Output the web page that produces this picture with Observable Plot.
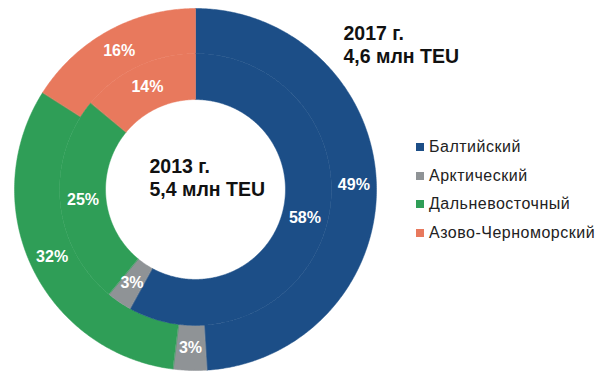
<!DOCTYPE html>
<html>
<head>
<meta charset="utf-8">
<script src="https://cdn.jsdelivr.net/npm/d3@7"></script>
<script src="https://cdn.jsdelivr.net/npm/@observablehq/plot@0.6"></script>
<style>
  html, body { margin: 0; padding: 0; background: #fff; }
  #wrap { position: relative; width: 603px; height: 380px; font-family: "Liberation Sans", Arial, sans-serif; }
  #legend { position: absolute; left: 416px; top: 137px; font-size: 16px; letter-spacing: 0.5px; color: #222; }
  #legend div { height: 28.5px; line-height: 20px; white-space: nowrap; }
  #legend span.sw { display: inline-block; width: 8px; height: 8px; margin-right: 5px; vertical-align: 1px; }
</style>
</head>
<body>
<div id="wrap"></div>
<script>
const categories = ["Балтийский", "Арктический", "Дальневосточный", "Азово-Черноморский"];
const colors = ["#1c4e87", "#8f9396", "#2f9e57", "#e8795d"];
const share2017 = [49, 3, 32, 16];   // outer ring
const share2013 = [58, 3, 25, 14];   // inner ring
const years = ["2017 г.", "2013 г."];
const totals = ["4,6 млн TEU", "5,4 млн TEU"];

// ring radii (relative to outer radius)
const rings = [
  {values: share2017, r0: 0.751, r1: 1},
  {values: share2013, r0: 0.497, r1: 0.751}
];

const pie = d3.pie().sort(null).startAngle(0).endAngle(2 * Math.PI);
const slices = [];
rings.forEach((ring) => {
  pie(ring.values).forEach((a, i) => {
    const n = Math.max(4, Math.ceil((a.endAngle - a.startAngle) / 0.01));
    const pts = [];
    for (let k = 0; k <= n; k++) {
      const t = a.startAngle + (a.endAngle - a.startAngle) * k / n;
      pts.push([ring.r1 * Math.sin(t), ring.r1 * Math.cos(t)]);
    }
    for (let k = n; k >= 0; k--) {
      const t = a.startAngle + (a.endAngle - a.startAngle) * k / n;
      pts.push([ring.r0 * Math.sin(t), ring.r0 * Math.cos(t)]);
    }
    pts.push(pts[0]);
    const mid = (a.startAngle + a.endAngle) / 2;
    const rm = (ring.r0 + ring.r1) / 2;
    slices.push({
      type: "Feature",
      properties: {
        category: categories[i],
        value: a.data,
        lx: rm * Math.sin(mid),
        ly: rm * Math.cos(mid)
      },
      geometry: {type: "Polygon", coordinates: [pts]}
    });
  });
});

const R = 181;
const plot = Plot.plot({
  width: 603,
  height: 380,
  marginLeft: 14,
  marginTop: 8,
  marginRight: 603 - 14 - 2 * R,
  marginBottom: 380 - 8 - 2 * R,
  projection: {type: "reflect-y", domain: {type: "MultiPoint", coordinates: [[-1, -1], [1, 1]]}},
  color: {domain: categories, range: colors},
  style: {fontFamily: "'Liberation Sans', Arial, sans-serif", background: "#fff"},
  marks: [
    Plot.geo(slices, {fill: d => d.properties.category, stroke: d => d.properties.category, strokeWidth: 0.5}),
    Plot.text(slices, {
      x: d => d.properties.lx, y: d => d.properties.ly,
      text: d => d.properties.value + "%",
      fill: "#fff", fontSize: 16, fontWeight: "bold"
    }),
    Plot.text([years[1] + "\n" + totals[1]], {
      frameAnchor: "middle", dx: -46, dy: -33, textAnchor: "start", lineAnchor: "top",
      lineHeight: 1.18, fontSize: 19.5, fontWeight: "bold", fill: "#111"
    }),
    Plot.text([years[0] + "\n" + totals[0]], {
      frameAnchor: "top-right", dx: -33, dy: 15, textAnchor: "start", lineAnchor: "top",
      lineHeight: 1.18, fontSize: 19.5, fontWeight: "bold", fill: "#111"
    })
  ]
});

const wrap = document.getElementById("wrap");
wrap.appendChild(plot);
const legend = document.createElement("div");
legend.id = "legend";
categories.forEach((c, i) => {
  const row = document.createElement("div");
  const sw = document.createElement("span");
  sw.className = "sw";
  sw.style.background = colors[i];
  row.appendChild(sw);
  row.appendChild(document.createTextNode(c));
  legend.appendChild(row);
});
wrap.appendChild(legend);
</script>
</body>
</html>
